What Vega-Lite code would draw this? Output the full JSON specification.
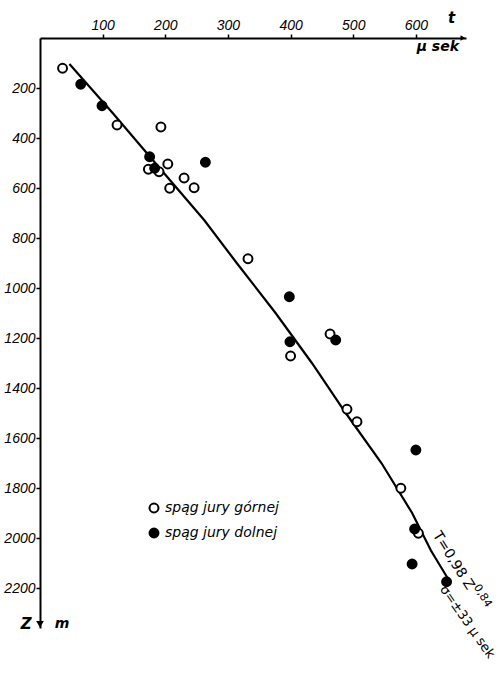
{
  "$schema": "https://vega.github.io/schema/vega-lite/v6.json",
  "width": 426,
  "height": 590,
  "autosize": "none",
  "padding": {"left": 40, "top": 38, "right": 34, "bottom": 45},
  "background": "white",
  "config": {"view": {"stroke": null}, "font": "Liberation Sans"},
  "datasets": {
    "points": [
      {"t": 36, "z": 121, "type": "spąg jury górnej"},
      {"t": 123, "z": 348, "type": "spąg jury górnej"},
      {"t": 193, "z": 356, "type": "spąg jury górnej"},
      {"t": 173, "z": 525, "type": "spąg jury górnej"},
      {"t": 190, "z": 535, "type": "spąg jury górnej"},
      {"t": 204, "z": 504, "type": "spąg jury górnej"},
      {"t": 230, "z": 560, "type": "spąg jury górnej"},
      {"t": 207, "z": 601, "type": "spąg jury górnej"},
      {"t": 246, "z": 599, "type": "spąg jury górnej"},
      {"t": 332, "z": 883, "type": "spąg jury górnej"},
      {"t": 400, "z": 1272, "type": "spąg jury górnej"},
      {"t": 463, "z": 1184, "type": "spąg jury górnej"},
      {"t": 490, "z": 1485, "type": "spąg jury górnej"},
      {"t": 506, "z": 1535, "type": "spąg jury górnej"},
      {"t": 576, "z": 1801, "type": "spąg jury górnej"},
      {"t": 604, "z": 1981, "type": "spąg jury górnej"},
      {"t": 65, "z": 185, "type": "spąg jury dolnej"},
      {"t": 99, "z": 271, "type": "spąg jury dolnej"},
      {"t": 175, "z": 475, "type": "spąg jury dolnej"},
      {"t": 183, "z": 521, "type": "spąg jury dolnej"},
      {"t": 264, "z": 497, "type": "spąg jury dolnej"},
      {"t": 398, "z": 1035, "type": "spąg jury dolnej"},
      {"t": 399, "z": 1215, "type": "spąg jury dolnej"},
      {"t": 472, "z": 1208, "type": "spąg jury dolnej"},
      {"t": 600, "z": 1648, "type": "spąg jury dolnej"},
      {"t": 598, "z": 1964, "type": "spąg jury dolnej"},
      {"t": 594, "z": 2104, "type": "spąg jury dolnej"},
      {"t": 649, "z": 2175, "type": "spąg jury dolnej"}
    ],
    "curve": [
      {"t": 47, "z": 104},
      {"t": 116, "z": 300},
      {"t": 184, "z": 500},
      {"t": 262, "z": 728},
      {"t": 314, "z": 900},
      {"t": 376, "z": 1100},
      {"t": 434, "z": 1300},
      {"t": 488, "z": 1500},
      {"t": 545, "z": 1700},
      {"t": 594, "z": 1900},
      {"t": 624, "z": 2050},
      {"t": 653, "z": 2170}
    ],
    "one": [{}]
  },
  "layer": [
    {
      "data": {"name": "curve"},
      "mark": {"type": "line", "color": "black", "strokeWidth": 2.2},
      "encoding": {
        "x": {
          "field": "t", "type": "quantitative", "title": null,
          "scale": {"domain": [0, 680], "nice": false, "zero": false},
          "axis": {
            "orient": "top", "values": [100, 200, 300, 400, 500, 600], "format": "d",
            "grid": false, "domainColor": "black", "domainWidth": 2,
            "tickColor": "black", "tickWidth": 1.5, "tickSize": 4,
            "labelColor": "black", "labelFont": "Liberation Sans", "labelFontStyle": "italic",
            "labelFontSize": 14, "labelPadding": 2, "labelOverlap": false
          }
        },
        "y": {
          "field": "z", "type": "quantitative", "title": null,
          "scale": {"domain": [0, 2360], "nice": false, "zero": false, "reverse": true},
          "axis": {
            "orient": "left",
            "values": [200, 400, 600, 800, 1000, 1200, 1400, 1600, 1800, 2000, 2200],
            "format": "d",
            "grid": false, "domainColor": "black", "domainWidth": 2,
            "tickColor": "black", "tickWidth": 1.5, "tickSize": 4,
            "labelColor": "black", "labelFont": "Liberation Sans", "labelFontStyle": "italic",
            "labelFontSize": 14, "labelPadding": 1, "labelOverlap": false
          }
        },
        "order": {"field": "z", "type": "quantitative"}
      }
    },
    {
      "data": {"name": "points"},
      "mark": {"type": "point", "shape": "circle", "filled": true, "stroke": "black", "strokeWidth": 2, "size": 80, "opacity": 1},
      "encoding": {
        "x": {"field": "t", "type": "quantitative"},
        "y": {"field": "z", "type": "quantitative"},
        "fill": {
          "field": "type", "type": "nominal",
          "scale": {"domain": ["spąg jury górnej", "spąg jury dolnej"], "range": ["white", "black"]},
          "legend": {
            "title": null, "orient": "none", "legendX": 107, "legendY": 463,
            "labelFont": "DejaVu Sans", "labelFontStyle": "italic", "labelFontSize": 14, "labelColor": "black",
            "symbolType": "circle", "symbolSize": 80, "symbolStrokeColor": "black", "symbolStrokeWidth": 2,
            "rowPadding": 7, "labelOffset": 4, "padding": 0
          }
        }
      }
    },
    {
      "data": {"name": "one"},
      "mark": {"type": "point", "shape": "triangle-down", "filled": true, "color": "black", "size": 60, "opacity": 1},
      "encoding": {"x": {"datum": 0}, "y": {"datum": 2345}}
    },
    {
      "data": {"name": "one"},
      "mark": {"type": "point", "shape": "triangle-right", "filled": true, "color": "black", "size": 30, "opacity": 1},
      "encoding": {"x": {"datum": 675}, "y": {"datum": 0}}
    },
    {
      "data": {"name": "one"},
      "mark": {"type": "text", "text": "t", "font": "DejaVu Sans", "fontStyle": "italic", "fontWeight": "bold", "fontSize": 15, "color": "black", "align": "center", "baseline": "middle"},
      "encoding": {"x": {"datum": 657}, "y": {"datum": -80}}
    },
    {
      "data": {"name": "one"},
      "mark": {"type": "text", "text": "μ sek", "font": "DejaVu Sans", "fontStyle": "italic", "fontWeight": "bold", "fontSize": 14, "color": "black", "align": "center", "baseline": "middle"},
      "encoding": {"x": {"datum": 635}, "y": {"datum": 34}}
    },
    {
      "data": {"name": "one"},
      "mark": {"type": "text", "text": "Z", "font": "DejaVu Sans", "fontStyle": "italic", "fontWeight": "bold", "fontSize": 15, "color": "black", "align": "center", "baseline": "middle"},
      "encoding": {"x": {"datum": -22}, "y": {"datum": 2345}}
    },
    {
      "data": {"name": "one"},
      "mark": {"type": "text", "text": "m", "font": "DejaVu Sans", "fontStyle": "italic", "fontWeight": "bold", "fontSize": 14, "color": "black", "align": "center", "baseline": "middle"},
      "encoding": {"x": {"datum": 35}, "y": {"datum": 2345}}
    },
    {
      "data": {"name": "one"},
      "mark": {"type": "text", "text": "T=0,98 Z", "font": "DejaVu Sans", "fontSize": 14, "color": "black", "align": "left", "baseline": "middle", "angle": 58},
      "encoding": {"x": {"datum": 632}, "y": {"datum": 1980}}
    },
    {
      "data": {"name": "one"},
      "mark": {"type": "text", "text": "0,84", "font": "DejaVu Sans", "fontSize": 11, "color": "black", "align": "left", "baseline": "middle", "angle": 58},
      "encoding": {"x": {"datum": 696}, "y": {"datum": 2190}}
    },
    {
      "data": {"name": "one"},
      "mark": {"type": "text", "text": "σ=±33 μ sek", "font": "DejaVu Sans", "fontSize": 13, "color": "black", "align": "left", "baseline": "middle", "angle": 55},
      "encoding": {"x": {"datum": 643}, "y": {"datum": 2196}}
    }
  ]
}
